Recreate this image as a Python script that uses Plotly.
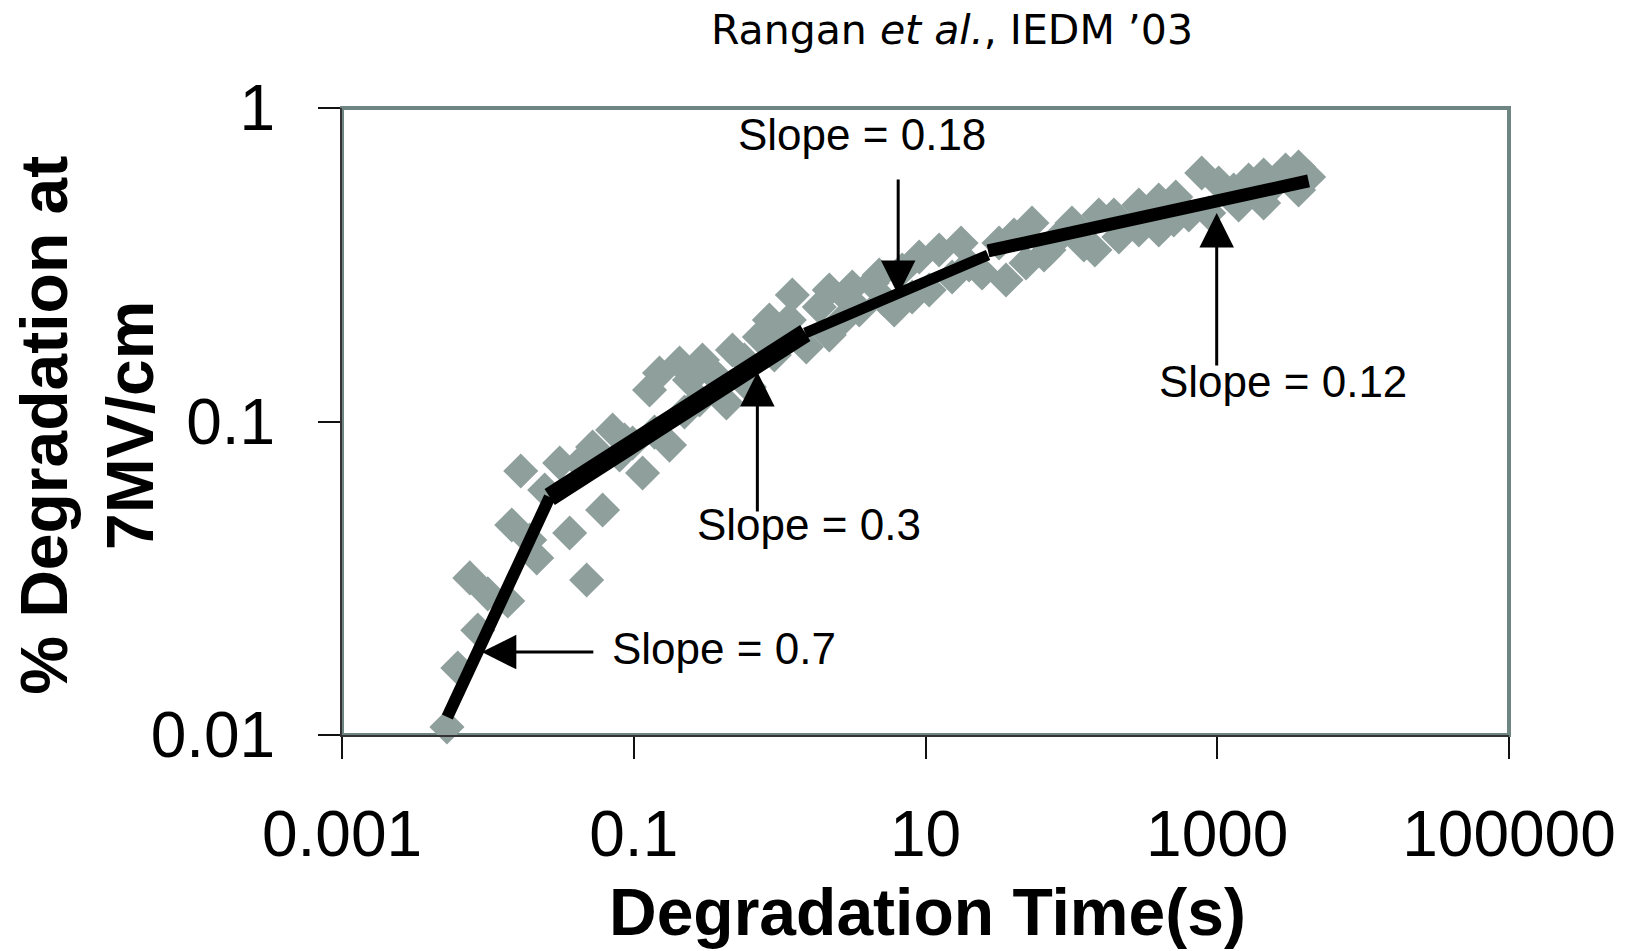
import numpy as np
import plotly.graph_objects as go

# ---- data (log-log) ----
time_s = [0.00524, 0.00622, 0.00752, 0.00853, 0.00999, 0.01369, 0.01458, 0.0168, 0.01935, 0.02163,
          0.02452, 0.03106, 0.03636, 0.04257, 0.04606, 0.04753, 0.05224, 0.06116, 0.07161, 0.07998,
          0.0865, 0.09815, 0.1149, 0.1283, 0.1388, 0.1502, 0.1758, 0.206, 0.2228, 0.241,
          0.2822, 0.2958, 0.3574, 0.3867, 0.4318, 0.4747, 0.5736, 0.6205, 0.7265, 0.8505,
          0.9202, 0.9954, 1.166, 1.222, 1.524, 1.870, 2.19, 2.19, 2.563, 3.001,
          3.146, 3.513, 4.312, 4.815, 5.21, 6.1, 6.922, 8.101, 9.05, 10.59,
          12.4, 15.22, 17.53, 19.89, 24.41, 31.92, 35.65, 40.44, 48.85, 53.69,
          64.9, 70.21, 78.4, 100.9, 121.8, 144.9, 154.3, 195.6, 211.6, 289.9,
          289.9, 397.3, 397.3, 503.4, 519.4, 637.6, 782.5, 874, 1023, 1296,
          1402, 1642, 2079, 2079, 2435, 2941, 3610, 3610, 4227]
degradation = [0.0106, 0.01636, 0.0317, 0.0216, 0.0282, 0.02676, 0.04675, 0.0695, 0.04188, 0.03668,
               0.06045, 0.07374, 0.04407, 0.07374, 0.07426, 0.03122, 0.08291, 0.05221, 0.09393, 0.0782,
               0.08728, 0.08537, 0.06851, 0.126, 0.0925, 0.1428, 0.0841, 0.1537, 0.1072, 0.1356,
               0.1171, 0.1571, 0.1407, 0.1356, 0.1146, 0.1691, 0.1571, 0.1288, 0.186, 0.2108,
               0.163, 0.1957, 0.2108, 0.2532, 0.1728, 0.2318, 0.2627, 0.1888, 0.2061, 0.2441,
               0.2685, 0.2268, 0.2765, 0.2934, 0.2441, 0.2268, 0.3042, 0.2495, 0.3347, 0.2627,
               0.3524, 0.2889, 0.371, 0.3156, 0.2976, 0.371, 0.2827, 0.3935, 0.3202, 0.4297,
               0.3397, 0.3524, 0.3793, 0.4297, 0.3656, 0.3524, 0.4557, 0.4557, 0.3878, 0.4905,
               0.4081, 0.4081, 0.5088, 0.4393, 0.52, 0.4557, 0.6204, 0.4624, 0.5763, 0.5475,
               0.4905, 0.5892, 0.4977, 0.6112, 0.5681, 0.6343, 0.6484, 0.5475, 0.6025]

# piecewise power-law fit segments (start, end)
fit_t = [[0.00527, 0.02653], [0.02653, 1.500], [1.500, 26.84], [26.84, 4227]]
fit_d = [[0.01141, 0.05741], [0.05741, 0.1915], [0.1915, 0.3397], [0.3499, 0.5852]]
fit_widths = [12, 19, 11, 13]

slope_labels = ["Slope = 0.7", "Slope = 0.3", "Slope = 0.18", "Slope = 0.12"]
arrow_tip_t = [0.00909, 0.7037, 6.497, 991.3]
arrow_tip_d = [0.01839, 0.1438, 0.2532, 0.4624]

x_tickvals = [0.001, 0.1, 10, 1000, 100000]
x_ticktext = ["0.001", "0.1", "10", "1000", "100000"]
y_tickvals = [0.01, 0.1, 1]
y_ticktext = ["0.01", "0.1", "1"]

# ---- styling ----
MARKER_GRAY = "#8fa09c"
FRAME_GRAY = "#6f8582"
FONT = "Liberation Sans, Arial, sans-serif"

fig = go.Figure()
fig.add_trace(go.Scatter(
    x=time_s, y=degradation, mode="markers",
    marker=dict(symbol="diamond", size=27, color=MARKER_GRAY, line=dict(width=0)),
    cliponaxis=False, showlegend=False, hoverinfo="skip"))

for t, d, w in zip(fit_t, fit_d, fit_widths):
    fig.add_trace(go.Scatter(x=t, y=d, mode="lines",
                             line=dict(color="black", width=w),
                             cliponaxis=False, showlegend=False, hoverinfo="skip"))

# arrow tails (pixel offsets from tip) and label offsets
arrow_off = [(113, 0), (0, 141), (0, -117), (0, 154)]
label_shift = [(242, 4), (52, -152), (-36, 161), (66, -168)]

annotations = []
for lab, tt, dd, (ax, ay), (xs, ys) in zip(slope_labels, arrow_tip_t, arrow_tip_d, arrow_off, label_shift):
    annotations.append(dict(x=np.log10(tt), y=np.log10(dd), xref="x", yref="y",
                            text="", showarrow=True, ax=ax, ay=ay,
                            arrowhead=2, arrowsize=2.3, arrowwidth=3, arrowcolor="black"))
    annotations.append(dict(x=np.log10(tt), y=np.log10(dd), xref="x", yref="y",
                            text=lab, showarrow=False, xshift=xs, yshift=ys,
                            xanchor="center", yanchor="middle",
                            font=dict(family=FONT, size=44, color="black")))

# axis titles and header
annotations.append(dict(x=0.5013, y=-0.282, xref="paper", yref="paper",
                        text="<b>Degradation Time(s)</b>", showarrow=False,
                        xanchor="center", yanchor="middle",
                        font=dict(family=FONT, size=66, color="black")))
annotations.append(dict(x=-0.218, y=0.494, xref="paper", yref="paper",
                        text="<b>% Degradation at<br>7MV/cm</b>", showarrow=False,
                        textangle=-90, xanchor="center", yanchor="middle",
                        font=dict(family=FONT, size=66, color="black")))
annotations.append(dict(x=0.5227, y=1.124, xref="paper", yref="paper",
                        text="Rangan <i>et al.</i>, IEDM ’03", showarrow=False,
                        xanchor="center", yanchor="middle",
                        font=dict(family="DejaVu Sans, sans-serif", size=41, color="black")))

fig.update_layout(
    width=1628, height=951,
    margin=dict(l=342, r=117, t=108, b=216),
    paper_bgcolor="white", plot_bgcolor="white",
    annotations=annotations,
    shapes=[dict(type="rect", xref="paper", yref="paper", x0=0, x1=1, y0=0, y1=1,
                 line=dict(color=FRAME_GRAY, width=4), layer="below")],
)
fig.update_xaxes(type="log", range=[-3, 5], tickvals=x_tickvals, ticktext=x_ticktext,
                 ticks="outside", ticklen=22, tickwidth=2, tickcolor="#111",
                 showline=True, linecolor="#333", linewidth=2,
                 showgrid=False, zeroline=False, ticklabelstandoff=20,
                 tickfont=dict(family=FONT, size=64, color="black"))
fig.update_yaxes(type="log", range=[-2, 0], tickvals=y_tickvals, ticktext=y_ticktext,
                 ticks="outside", ticklen=22, tickwidth=2, tickcolor="#111",
                 showline=True, linecolor="#333", linewidth=2,
                 showgrid=False, zeroline=False, ticklabelstandoff=30,
                 tickfont=dict(family=FONT, size=64, color="black"))

fig.write_html("out.html")
